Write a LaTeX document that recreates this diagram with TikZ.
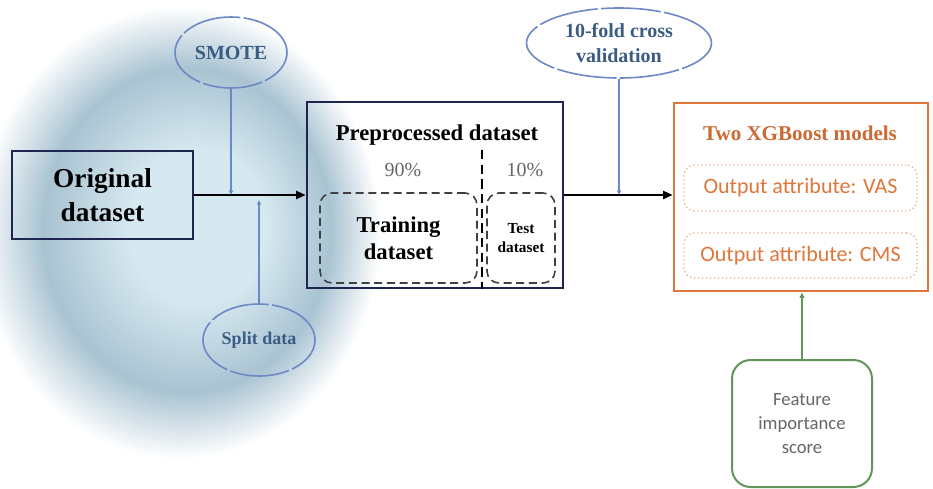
\documentclass[tikz,border=0pt]{standalone}
\usepackage{fontspec}
\setmainfont{Liberation Serif}
\newfontfamily\calib{Carlito}
\usetikzlibrary{shapes.geometric,arrows.meta}
\definecolor{navy}{HTML}{1E2650}
\definecolor{ovalblue}{HTML}{6C88C6}
\definecolor{ovaltext}{HTML}{3A5C82}
\definecolor{xgborange}{HTML}{E0763A}
\definecolor{dotorange}{HTML}{E6B393}
\definecolor{featgreen}{HTML}{62955A}
\definecolor{blobin}{HTML}{D7E9F0}
\definecolor{blobring}{HTML}{A9C3D2}
\pgfdeclareradialshading{blob}{\pgfpoint{7bp}{2bp}}{color(0bp)=(blobin); color(7bp)=(blobin); color(15bp)=(blobring); color(21bp)=(white); color(50bp)=(white)}

\begin{document}
\begin{tikzpicture}[x=0.75pt,y=-0.75pt,
    oval/.style={ellipse, draw=ovalblue, line width=1.2pt, dash pattern=on 45pt off 2.5pt, text=ovaltext, font=\bfseries\fontsize{15}{18.5}\selectfont, align=center, inner sep=0pt},
    flow/.style={-{Triangle[length=7pt,width=6pt]}, line width=1.5pt},
    hint/.style={-{Triangle[length=3.5pt,width=3pt]}, ovalblue, line width=0.9pt},
    part/.style={draw=black!75, line width=1.2pt, dash pattern=on 6pt off 3.5pt, rounded corners=9pt, inner sep=0pt, align=center}]
    \useasboundingbox (0,0) rectangle (933,489);
    \shade[shading=blob] (140,245) ellipse (240 and 270);

    \node[draw=navy, line width=2.2pt, minimum width=135.75pt, minimum height=66pt, align=center, font=\bfseries\fontsize{20.5}{25}\selectfont] (orig) at (102.5,195) {Original\\dataset};

    \node[draw=navy, line width=2.2pt, minimum width=192pt, minimum height=139.5pt] (pre) at (435,195) {};
    \node[font=\bfseries\fontsize{17}{20}\selectfont] (pretitle) at (437,135) {Preprocessed dataset};
    \node[text=black!60, font=\fontsize{15}{18}\selectfont] (ninety) at (403,170) {90\%};
    \node[text=black!60, font=\fontsize{15}{18}\selectfont] (ten) at (525,170) {10\%};
    \coordinate (cut) at (482,150);
    \draw[line width=2pt, dash pattern=on 7pt off 4pt] (cut) -- (cut |- pre.south);
    \node[part, minimum width=117.75pt, minimum height=67.5pt, font=\bfseries\fontsize{17}{20}\selectfont] (train) at (398.5,238) {Training\\dataset};
    \node[part, minimum width=51pt, minimum height=67.5pt, font=\bfseries\fontsize{11.5}{14}\selectfont] (test) at (521,238) {Test\\dataset};

    \node[oval, minimum width=84pt, minimum height=53.25pt] (smote) at (231,52.5) {SMOTE};
    \node[oval, minimum width=84pt, minimum height=54pt, font=\bfseries\fontsize{13.5}{16}\selectfont] (split) at (259,340) {Split data};
    \node[oval, minimum width=138.75pt, minimum height=52.5pt] (cv) at (619,43) {10-fold cross\\validation};

    \node[draw=xgborange, line width=2.2pt, fill=white, minimum width=190.5pt, minimum height=141pt] (xgb) at (801,197) {};
    \node[text=xgborange!90!black, font=\bfseries\fontsize{15.8}{18}\selectfont] (xgbtitle) at (800,133) {Two XGBoost models};
    \node[draw=dotorange, line width=1pt, dotted, rounded corners=8pt, minimum width=174.75pt, minimum height=34.5pt, text=xgborange, font=\calib\fontsize{16.5}{19}\selectfont] (vas) at (800.5,188) {Output attribute: VAS};
    \node[draw=dotorange, line width=1pt, dotted, rounded corners=8pt, minimum width=174.75pt, minimum height=33.75pt, text=xgborange, font=\calib\fontsize{16.5}{19}\selectfont] (cms) at (800.5,255.5) {Output attribute: CMS};

    \node[draw=featgreen, line width=1.5pt, fill=white, rounded corners=14pt, minimum width=105pt, minimum height=95.25pt, align=center, text=black!60, font=\calib\fontsize{14}{18}\selectfont] (feat) at (802,423.5) {Feature\\importance\\score};

    \coordinate (splitin) at (259,200);
    \draw[flow] (orig) -- (pre);
    \draw[flow] (pre.east) -- (pre.east -| xgb.west);
    \draw[hint] (smote.south) -- (smote.south |- orig.east);
    \draw[hint] (split.north) -- (splitin);
    \draw[hint] (cv.south) -- (cv.south |- pre.east);
    \draw[-{Triangle[length=4pt,width=3.5pt]}, featgreen, line width=1.5pt] (feat.north) -- (feat.north |- xgb.south);
\end{tikzpicture}
\end{document}
